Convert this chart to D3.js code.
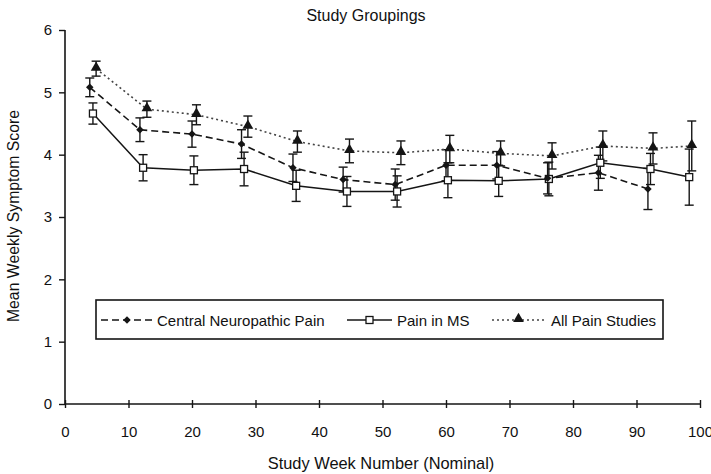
<!DOCTYPE html>
<html>
<head>
<meta charset="utf-8">
<script src="https://cdn.jsdelivr.net/npm/d3@7/dist/d3.min.js"></script>
<style>
  html, body { margin: 0; padding: 0; background: #fff; }
  svg { display: block; font-family: "Liberation Sans", Arial, sans-serif; }
</style>
</head>
<body>
<svg id="chart" width="711" height="474"></svg>
<script>
// Study weeks (nominal) for each grouping
const cnpWeeks = [3.9, 11.8, 20, 27.8, 35.9, 43.8, 52, 60, 68, 76, 84, 91.8];
const msWeeks  = [4.4, 12.3, 20.3, 28.2, 36.4, 44.4, 52.3, 60.3, 68.3, 76.2, 84.3, 92.2, 98.3];
const allWeeks = [4.9, 12.9, 20.7, 28.8, 36.6, 44.8, 52.9, 60.6, 68.6, 76.7, 84.7, 92.6, 98.7];

// Mean weekly symptom scores and error half-widths
const cnpMean = [5.08, 4.40, 4.33, 4.17, 3.79, 3.60, 3.52, 3.83, 3.83, 3.62, 3.71, 3.45];
const cnpErr  = [0.15, 0.19, 0.21, 0.23, 0.22, 0.20, 0.25, 0.25, 0.22, 0.25, 0.28, 0.33];
const msMean  = [4.66, 3.79, 3.75, 3.77, 3.50, 3.41, 3.41, 3.59, 3.58, 3.61, 3.87, 3.77, 3.64];
const msErr   = [0.17, 0.21, 0.23, 0.27, 0.25, 0.24, 0.25, 0.28, 0.25, 0.27, 0.25, 0.25, 0.45];
const allMean = [5.38, 4.73, 4.64, 4.45, 4.21, 4.06, 4.03, 4.09, 4.02, 3.98, 4.14, 4.10, 4.14];
const allErr  = [0.12, 0.13, 0.16, 0.17, 0.17, 0.19, 0.19, 0.22, 0.20, 0.21, 0.24, 0.25, 0.40];

const xTicks = [0, 10, 20, 30, 40, 50, 60, 70, 80, 90, 100];
const yTicks = [0, 1, 2, 3, 4, 5, 6];
const seriesNames = ["Central Neuropathic Pain", "Pain in MS", "All Pain Studies"];

const svg = d3.select("#chart");
const plotL = 65, plotR = 700, plotT = 30, plotB = 404;
const ink = "#151515";
const textInk = "#111";

const x = d3.scaleLinear().domain([0, 100]).range([plotL, plotR]);
const y = d3.scaleLinear().domain([0, 6]).range([plotB, plotT]);

// Axes
const yAxis = svg.append("g").attr("transform", `translate(${plotL},0)`)
  .call(d3.axisLeft(y).tickValues(yTicks).tickSize(6).tickPadding(7).tickFormat(d3.format("d")));
const xAxis = svg.append("g").attr("transform", `translate(0,${plotB})`)
  .call(d3.axisBottom(x).tickValues(xTicks).tickSize(5).tickPadding(17).tickFormat(d3.format("d")));
[yAxis, xAxis].forEach(g => {
  g.select(".domain").attr("stroke", ink).attr("stroke-width", 1.6);
  g.selectAll(".tick line").attr("stroke", ink).attr("stroke-width", 1.4);
  g.selectAll(".tick text").attr("fill", textInk).style("font-size", "15px");
});
// x ticks cross the axis line
xAxis.selectAll(".tick line").attr("y1", -4).attr("y2", 4);
xAxis.select(".domain").attr("d", `M${plotL},0H${plotR}`);
yAxis.select(".domain").attr("d", `M0,${plotB}V${plotT}`);

// Titles
svg.append("text").attr("x", 366).attr("y", 21).attr("text-anchor", "middle")
  .attr("fill", textInk).style("font-size", "16px").text("Study Groupings");
svg.append("text").attr("x", 381).attr("y", 469).attr("text-anchor", "middle")
  .attr("fill", textInk).style("font-size", "16.4px").text("Study Week Number (Nominal)");
svg.append("text").attr("transform", "translate(19,216) rotate(-90)").attr("text-anchor", "middle")
  .attr("fill", textInk).style("font-size", "15.8px").text("Mean Weekly Symptom Score");

const series = [
  { weeks: msWeeks,  mean: msMean,  err: msErr,  dash: null,  color: ink,    width: 1.5, marker: "square" },
  { weeks: cnpWeeks, mean: cnpMean, err: cnpErr, dash: "7,4", color: ink,    width: 1.6, marker: "diamond" },
  { weeks: allWeeks, mean: allMean, err: allErr, dash: "2,3", color: "#444", width: 1.6, marker: "triangle" }
];

const line = d3.line().x(d => x(d.w)).y(d => y(d.m));

function drawMarker(g, type, cx, cy) {
  if (type === "square") {
    g.append("rect").attr("x", cx - 3.5).attr("y", cy - 3.5).attr("width", 7).attr("height", 7)
      .attr("fill", "#fff").attr("stroke", ink).attr("stroke-width", 1.3);
  } else if (type === "diamond") {
    g.append("path").attr("d", d3.symbol().type(d3.symbolSquare).size(28)())
      .attr("transform", `translate(${cx},${cy}) rotate(45)`).attr("fill", ink);
  } else {
    g.append("path").attr("d", d3.symbol().type(d3.symbolTriangle).size(50)())
      .attr("transform", `translate(${cx},${cy - 1})`).attr("fill", ink);
  }
}

// Lines and error bars
series.forEach(s => {
  const pts = s.weeks.map((w, i) => ({ w, m: s.mean[i], e: s.err[i] }));
  svg.append("path").datum(pts).attr("d", line).attr("fill", "none")
    .attr("stroke", s.color).attr("stroke-width", s.width)
    .attr("stroke-dasharray", s.dash);
  const eb = svg.append("g").attr("stroke", ink).attr("stroke-width", 1.4);
  pts.forEach(p => {
    const cx = x(p.w), y0 = y(p.m - p.e), y1 = y(p.m + p.e);
    eb.append("line").attr("x1", cx).attr("x2", cx).attr("y1", y0).attr("y2", y1);
    eb.append("line").attr("x1", cx - 4.5).attr("x2", cx + 4.5).attr("y1", y0).attr("y2", y0);
    eb.append("line").attr("x1", cx - 4.5).attr("x2", cx + 4.5).attr("y1", y1).attr("y2", y1);
  });
});
// Markers on top
series.forEach(s => {
  const g = svg.append("g");
  s.weeks.forEach((w, i) => drawMarker(g, s.marker, x(w), y(s.mean[i])));
});

// Legend
const lg = svg.append("g");
lg.append("rect").attr("x", 96).attr("y", 300).attr("width", 567).attr("height", 39)
  .attr("fill", "#fff").attr("stroke", ink).attr("stroke-width", 1.6);
const legendItems = [
  { s: series[1], x0: 101, x1: 153, tx: 157 },
  { s: series[0], x0: 347, x1: 392, tx: 397 },
  { s: series[2], x0: 492, x1: 545, tx: 551 }
];
legendItems.forEach((it, i) => {
  const ly = 320;
  lg.append("line").attr("x1", it.x0).attr("x2", it.x1).attr("y1", ly).attr("y2", ly)
    .attr("stroke", it.s.color).attr("stroke-width", it.s.width).attr("stroke-dasharray", it.s.dash);
  drawMarker(lg, it.s.marker, (it.x0 + it.x1) / 2, ly);
  lg.append("text").attr("x", it.tx).attr("y", ly + 5.5).attr("fill", textInk)
    .style("font-size", "15px").text(seriesNames[i]);
});
</script>
</body>
</html>
